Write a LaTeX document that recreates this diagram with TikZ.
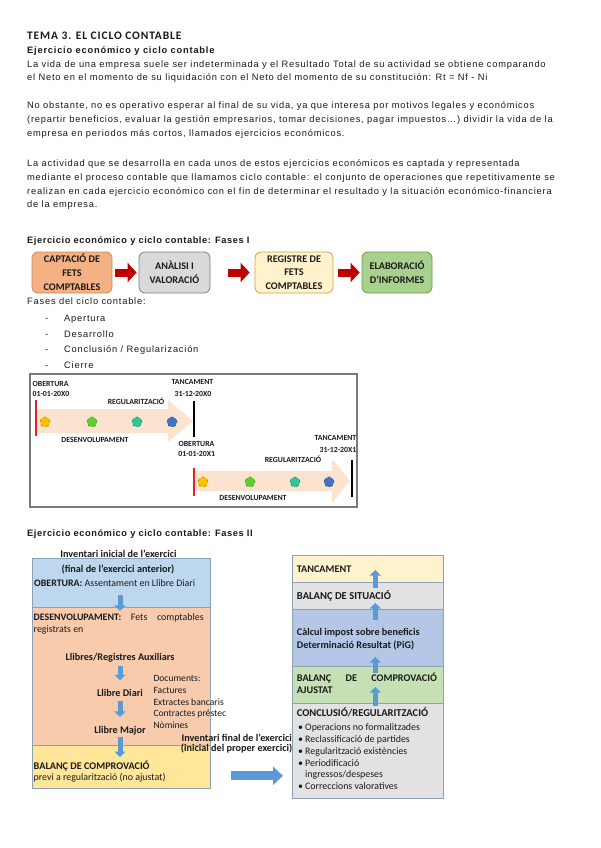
\documentclass[tikz,border=0pt]{standalone}
\usepackage{fontspec}
\setmainfont{Liberation Sans}
\newfontfamily\calibri{Carlito}
\newfontfamily\bodyfont[LetterSpace=8.5]{Liberation Sans}
\newfontfamily\headfont[LetterSpace=6]{Liberation Sans}
\newfontfamily\titlefont[LetterSpace=7.5]{Carlito}
\usetikzlibrary{arrows.meta,positioning,calc}
\definecolor{TextBlack}{HTML}{1A1A1A}
\definecolor{PeachFill}{HTML}{F4B183}
\definecolor{PeachLine}{HTML}{D0875A}
\definecolor{StoneFill}{HTML}{D9D9D9}
\definecolor{StoneLine}{HTML}{808080}
\definecolor{CreamFill}{HTML}{FFF2CC}
\definecolor{CreamLine}{HTML}{C9A548}
\definecolor{LeafFill}{HTML}{A9D18E}
\definecolor{LeafLine}{HTML}{6A9A4C}
\definecolor{DarkRed}{HTML}{C00000}
\definecolor{SkyBlue}{HTML}{5B9BD5}
\definecolor{IceBlue}{HTML}{BDD7EE}
\definecolor{SalmonFill}{HTML}{F8CBAD}
\definecolor{ButterFill}{HTML}{FFE699}
\definecolor{MistGray}{HTML}{E2E2E2}
\definecolor{PeriFill}{HTML}{B4C7E7}
\definecolor{MintFill}{HTML}{C5E0B4}
\definecolor{BoxEdge}{HTML}{8EA0B4}
\definecolor{BandPeach}{HTML}{FBE3CF}
\definecolor{LineRed}{HTML}{E0242A}
\definecolor{FrameGray}{HTML}{7A7A7A}
\definecolor{DotYellow}{HTML}{FFC000}
\definecolor{DotGreen}{HTML}{5ED12F}
\definecolor{DotTeal}{HTML}{33C49A}
\definecolor{DotBlue}{HTML}{4472C4}
\tikzset{
  bodytext/.style={font=\bodyfont\fontsize{9.3}{11}\selectfont, text=TextBlack, anchor=base west, inner sep=0pt},
  headtext/.style={font=\headfont\bfseries\fontsize{9.3}{11}\selectfont, text=TextBlack, anchor=base west, inner sep=0pt},
  phasebox/.style={rounded corners=6pt, line width=0.8pt, align=center, inner sep=0pt, minimum height=41pt, text=TextBlack, font=\calibri\bfseries\fontsize{10.2}{13.8}\selectfont},
  peachbox/.style={phasebox, draw=PeachLine, fill=PeachFill},
  stonebox/.style={phasebox, draw=StoneLine, fill=StoneFill},
  creambox/.style={phasebox, draw=CreamLine, fill=CreamFill},
  leafbox/.style={phasebox, draw=LeafLine, fill=LeafFill},
  redarrow/.style={-{Triangle[length=9pt,width=19pt]}, line width=8pt, draw=DarkRed},
  stagebox/.style={draw=BoxEdge, line width=0.6pt, anchor=north west, inner sep=0pt},
  boxtext/.style={font=\calibri\fontsize{9.9}{11}\selectfont, text=TextBlack, anchor=base west, inner sep=0pt},
  boxbold/.style={boxtext, font=\calibri\bfseries\fontsize{10.2}{11}\selectfont},
  doctext/.style={boxtext, font=\calibri\fontsize{9.6}{10}\selectfont},
  bluearrow/.style={-{Triangle[length=5.5pt,width=11pt]}, line width=5pt, draw=SkyBlue},
  bigarrow/.style={-{Triangle[length=10pt,width=18pt]}, line width=9pt, draw=SkyBlue},
  tinylabel/.style={font=\calibri\bfseries\fontsize{7.8}{8}\selectfont, text=TextBlack, anchor=base, inner sep=0pt},
  phasedot/.style={circle, minimum size=10pt, inner sep=0pt, dashed, line width=0.6pt}
}
\begin{document}
\begin{tikzpicture}[x=1pt, y=-1pt]
\fill[white] (0,0) rectangle (600,848);
\useasboundingbox (0,0) rectangle (600,848);

% introduction
\node[headtext, font=\titlefont\bfseries\fontsize{11.5}{12}\selectfont] (tema) at (27,40) {TEMA 3. EL CICLO CONTABLE};
\node[headtext, font=\bodyfont\bfseries\fontsize{9.3}{11}\selectfont] (ejer) at (27,53.3) {Ejercicio económico y ciclo contable};
\node[bodytext] (p1a) at (27,67.3) {La vida de una empresa suele ser indeterminada y el Resultado Total de su actividad se obtiene comparando};
\node[bodytext] (p1b) at (27,81) {el Neto en el momento de su liquidación con el Neto del momento de su constitución: Rt = Nf - Ni};
\node[bodytext] (p2a) at (27,108.3) {No obstante, no es operativo esperar al final de su vida, ya que interesa por motivos legales y económicos};
\node[bodytext] (p2b) at (27,122) {(repartir beneficios, evaluar la gestión empresarios, tomar decisiones, pagar impuestos…) dividir la vida de la};
\node[bodytext] (p2c) at (27,136) {empresa en periodos más cortos, llamados ejercicios económicos.};
\node[bodytext] (p3a) at (27,166.7) {La actividad que se desarrolla en cada unos de estos ejercicios económicos es captada y representada};
\node[bodytext] (p3b) at (27,180.7) {mediante el proceso contable que llamamos ciclo contable: el conjunto de operaciones que repetitivamente se};
\node[bodytext] (p3c) at (27,194.3) {realizan en cada ejercicio económico con el fin de determinar el resultado y la situación económico-financiera};
\node[bodytext] (p3d) at (27,207.7) {de la empresa.};

% fases I
\node[headtext] (fases1) at (27,243.3) {Ejercicio económico y ciclo contable: Fases I};
\node[peachbox, minimum width=80pt] (capt) at (72,272.5) {CAPTACIÓ DE\\FETS\\COMPTABLES};
\node[stonebox, minimum width=71pt] (anal) at (174.5,272.5) {ANÀLISI I\\VALORACIÓ};
\node[creambox, minimum width=78pt] (regi) at (294,272.5) {REGISTRE DE\\FETS\\COMPTABLES};
\node[leafbox, minimum width=70pt] (elab) at (397,272.5) {ELABORACIÓ\\D’INFORMES};
\draw[redarrow, shorten <=3pt, shorten >=2pt] (capt) -- (anal);
\draw[redarrow, shorten <=18pt, shorten >=5pt] (anal) -- (regi);
\draw[redarrow, shorten <=5pt, shorten >=2pt] (regi) -- (elab);

\node[bodytext] (fcic) at (27,304) {Fases del ciclo contable:};
\foreach \y/\txt [count=\i] in {321.5/Apertura, 337/Desarrollo, 352.5/{Conclusión / Regularización}, 368/Cierre}{
  \node[bodytext] (dash\i) at (45,\y) {-};
  \node[bodytext] (fase\i) at (64,\y) {\txt};
}

% timeline
\draw[FrameGray, line width=1.2pt] (30,374) rectangle (357,507);
\fill[BandPeach] (37,409) -- (168,409) -- (168,400) -- (193,421) -- (168,442) -- (168,433) -- (37,433) -- cycle;
\fill[BandPeach] (195,471) -- (332,471) -- (332,459) -- (350,481) -- (332,503) -- (332,491) -- (195,491) -- cycle;
\draw[LineRed, line width=1.8pt] (36,400) -- (36,436);
\draw[black, line width=1.8pt] (194,401) -- (194,437);
\draw[LineRed, line width=1.8pt] (194,468) -- (194,496);
\draw[black, line width=1.8pt] (352,460) -- (352,497);
\foreach \x/\col in {45/DotYellow, 92/DotGreen, 137/DotTeal, 172/DotBlue}{
  \node[phasedot, fill=\col, draw=\col!70!black] at (\x,422) {};
}
\foreach \x/\col in {203/DotYellow, 250/DotGreen, 295/DotTeal, 329/DotBlue}{
  \node[phasedot, fill=\col, draw=\col!70!black] at (\x,482) {};
}
\node[tinylabel, anchor=base west] (ob0) at (32.5,386.7) {OBERTURA};
\node[tinylabel, anchor=base west] (ob0d) at (32.5,396.7) {01-01-20X0};
\node[tinylabel] (tc0) at (192.5,384.3) {TANCAMENT};
\node[tinylabel] (tc0d) at (193,396) {31-12-20X0};
\node[tinylabel] (rg0) at (136,404.3) {REGULARITZACIÓ};
\node[tinylabel] (dv0) at (95,442.7) {DESENVOLUPAMENT};
\node[tinylabel] (ob1) at (196.5,446) {OBERTURA};
\node[tinylabel] (ob1d) at (196.7,456) {01-01-20X1};
\node[tinylabel] (rg1) at (293,462) {REGULARITZACIÓ};
\node[tinylabel] (dv1) at (253,500.7) {DESENVOLUPAMENT};
\node[tinylabel, anchor=base east] (tc1) at (356.5,440.7) {TANCAMENT};
\node[tinylabel, anchor=base east] (tc1d) at (356.5,452) {31-12-20X1};

% fases II
\node[headtext] (fases2) at (27,536.7) {Ejercicio económico y ciclo contable: Fases II};

% left column
\node[stagebox, fill=IceBlue, minimum width=178pt, minimum height=49pt] (obst) at (32,558) {};
\node[stagebox, fill=SalmonFill, minimum width=178pt, minimum height=138pt] (dest) at (32,607) {};
\node[stagebox, fill=ButterFill, minimum width=178pt, minimum height=43pt] (bal) at (32,745) {};
\node[boxbold, anchor=base] (invi) at (118.5,557.3) {Inventari inicial de l’exercici};
\node[boxbold, anchor=base] (invf) at (118,572.5) {(final de l’exercici anterior)};
\node[boxtext] (obtxt) at (34,586.7) {\textbf{OBERTURA:} Assentament en Llibre Diari};
\node[boxtext] (destxt) at (33.5,620) {\makebox[170pt][s]{\textbf{DESENVOLUPAMENT:} Fets comptables}};
\node[boxtext] (regtxt) at (33.5,632) {registrats en};
\node[boxbold, anchor=base] (aux) at (120,660) {Llibres/Registres Auxiliars};
\node[boxbold, anchor=base] (diari) at (120,696.7) {Llibre Diari};
\node[boxbold, anchor=base] (major) at (120,733.3) {Llibre Major};
\node[doctext] (doc1) at (153.3,681.7) {Documents:};
\node[doctext] (doc2) at (153.3,693.3) {Factures};
\node[doctext] (doc3) at (153.3,705) {Extractes bancaris};
\node[doctext] (doc4) at (153.3,716.7) {Contractes préstec};
\node[doctext] (doc5) at (153.3,728.3) {Nòmines};
\node[boxbold] (baltxt) at (33.5,769.3) {BALANÇ DE COMPROVACIÓ};
\node[boxtext] (baltxt2) at (33.5,780) {previ a regularització (no ajustat)};
\node[boxbold, anchor=base east] (invfin) at (292,741.7) {Inventari final de l’exercici};
\node[boxbold, anchor=base east] (invprop) at (292.5,751.7) {(inicial del proper exercici)};
\draw[bluearrow, shorten <=8pt, shorten >=2pt] (obtxt.south -| aux) -- (aux |- destxt.north);
\draw[bluearrow, shorten <=4pt, shorten >=9pt] (aux.south) -- (diari.north);
\draw[bluearrow, shorten <=4pt, shorten >=9pt] (diari.south) -- (major.north);
\draw[bluearrow, shorten <=2pt, shorten >=-12pt] (major.south) -- (major.south |- bal.north);

% right column
\node[stagebox, fill=CreamFill, minimum width=151pt, minimum height=27pt] (tanc) at (292,555) {};
\node[stagebox, fill=MistGray, minimum width=151pt, minimum height=27pt] (situ) at (292,582) {};
\node[stagebox, fill=PeriFill, minimum width=151pt, minimum height=57pt] (calc) at (292,609) {};
\node[stagebox, fill=MintFill, minimum width=151pt, minimum height=37pt] (ajus) at (292,666) {};
\node[stagebox, fill=MistGray, minimum width=151pt, minimum height=95pt] (concl) at (292,703) {};
\node[boxbold] (tanctxt) at (296.7,572.7) {TANCAMENT};
\node[boxbold, font=\calibri\bfseries\fontsize{10.6}{11}\selectfont] (situtxt) at (296.7,599.3) {BALANÇ DE SITUACIÓ};
\node[boxbold] (calc1) at (296.7,635) {Càlcul impost sobre beneficis};
\node[boxbold] (calc2) at (296.7,648.3) {Determinació Resultat (PiG)};
\node[boxbold] (ajus1) at (296.7,681.7) {\makebox[140pt][s]{BALANÇ DE COMPROVACIÓ}};
\node[boxbold] (ajus2) at (296.7,693.3) {AJUSTAT};
\node[boxbold, font=\calibri\bfseries\fontsize{10.5}{12}\selectfont] (concltxt) at (296.7,716.7) {CONCLUSIÓ/REGULARITZACIÓ};
\foreach \y/\txt [count=\i] in {730/Operacions no formalitzades, 742.7/Reclassificació de partides, 754.5/Regularització existències, 766/Periodificació, 789.3/Correccions valoratives}{
  \node[boxtext] (bul\i) at (298,\y) {•};
  \node[boxtext] (item\i) at (305,\y) {\txt};
}
\node[boxtext] (item4b) at (305,777.5) {ingressos/despeses};
\draw[bluearrow, shorten <=-6pt, shorten >=15pt] ([xshift=7.5pt]situ.north) -- ([xshift=7.5pt]tanc.north);
\draw[bluearrow, shorten <=-11pt, shorten >=21pt] ([xshift=7.5pt]calc.north) -- ([xshift=7.5pt]situ.north);
\draw[bluearrow, shorten <=-7pt, shorten >=48pt] ([xshift=7.5pt]ajus.north) -- ([xshift=7.5pt]calc.north);
\draw[bluearrow, shorten <=-3pt, shorten >=21pt] ([xshift=7.5pt]concl.north) -- ([xshift=7.5pt]ajus.north);

% left to right
\draw[bigarrow, shorten <=20pt, shorten >=9pt] ($(bal.east)+(0,9)$) -- ($(bal.east -| concl.west)+(0,9)$);
\end{tikzpicture}
\end{document}
